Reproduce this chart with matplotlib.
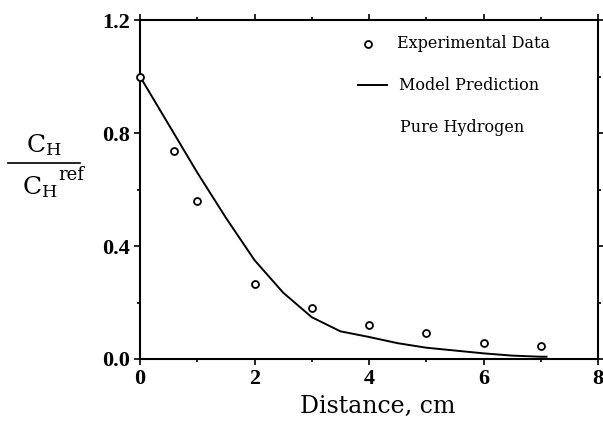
import matplotlib
matplotlib.use("Agg")
import matplotlib.pyplot as plt
from matplotlib.lines import Line2D

# experimental points
exp_x = [0.0, 0.6, 1.0, 2.0, 3.0, 4.0, 5.0, 6.0, 7.0]
exp_y = [1.0, 0.735, 0.56, 0.265, 0.18, 0.12, 0.092, 0.057, 0.046]

# model curve
model_x = [0.0, 0.5, 1.0, 1.5, 2.0, 2.5, 3.0, 3.5, 4.0, 4.5, 5.0, 5.5, 6.0, 6.5, 7.0, 7.1]
model_y = [1.0, 0.83, 0.66, 0.50, 0.35, 0.235, 0.148, 0.098, 0.078, 0.056, 0.04, 0.03, 0.02, 0.012, 0.008, 0.008]

xticks = [0, 2, 4, 6, 8]
yticks = [0.0, 0.4, 0.8, 1.2]

W, H = 603, 437
def fx(px):
    return px / W
def fy(py):
    return 1 - py / H

fig = plt.figure(figsize=(6.03, 4.37), dpi=100)
ax = fig.add_axes([fx(140), fy(359), 458 / W, 339 / H])

ax.plot(model_x, model_y, "-", color="black", lw=1.4)
ax.plot(exp_x, exp_y, "o", mfc="white", mec="black", mew=1.3, ms=5,
        clip_on=False, zorder=3)

ax.set_xlim(0, 8)
ax.set_ylim(0, 1.2)
ax.set_xticks(xticks)
ax.set_yticks(yticks)
ax.set_xticks([1, 3, 5, 7], minor=True)
ax.set_yticks([0.2, 0.6, 1.0], minor=True)
ax.set_xticklabels([str(t) for t in xticks], fontfamily="Liberation Serif",
                   fontweight="bold", fontsize=16)
ax.set_yticklabels(["%.1f" % t for t in yticks], fontfamily="Liberation Serif",
                   fontweight="bold", fontsize=16)
ax.tick_params(which="both", direction="out", top=True, right=True, width=1.2)
ax.tick_params(which="major", length=4, pad=3)
ax.tick_params(which="minor", length=2.5)
for s in ax.spines.values():
    s.set_linewidth(1.5)

# legend drawn by hand
fig.add_artist(Line2D([fx(368)], [fy(44)], marker="o", mfc="white", mec="black",
                      mew=1.3, ms=5, ls="none"))
fig.text(fx(397), fy(44), "Experimental Data", family="DejaVu Serif",
         fontsize=11.5, va="center")
fig.add_artist(Line2D([fx(358), fx(387)], [fy(85), fy(85)], color="black", lw=1.4))
fig.text(fx(399), fy(85), "Model Prediction", family="DejaVu Serif",
         fontsize=11.5, va="center")
fig.text(fx(400), fy(127), "Pure Hydrogen", family="DejaVu Serif",
         fontsize=11.5, va="center")

ax.set_xlabel("Distance, cm", family="DejaVu Serif", fontsize=17)
ax.xaxis.set_label_coords(0.52, -0.105)

# y label as a fraction
fig.text(fx(44), fy(152), r"$\mathregular{C_H}$", family="DejaVu Serif",
         fontsize=18, ha="center", va="baseline")
fig.add_artist(Line2D([fx(8), fx(80)], [fy(163), fy(163)], color="black", lw=1.2))
fig.text(fx(22), fy(194), r"$\mathregular{C_H}$", family="DejaVu Serif",
         fontsize=18, ha="left", va="baseline")
fig.text(fx(58), fy(180), "ref", family="DejaVu Serif",
         fontsize=13, ha="left", va="baseline")

fig.savefig("out.png", dpi=100)
